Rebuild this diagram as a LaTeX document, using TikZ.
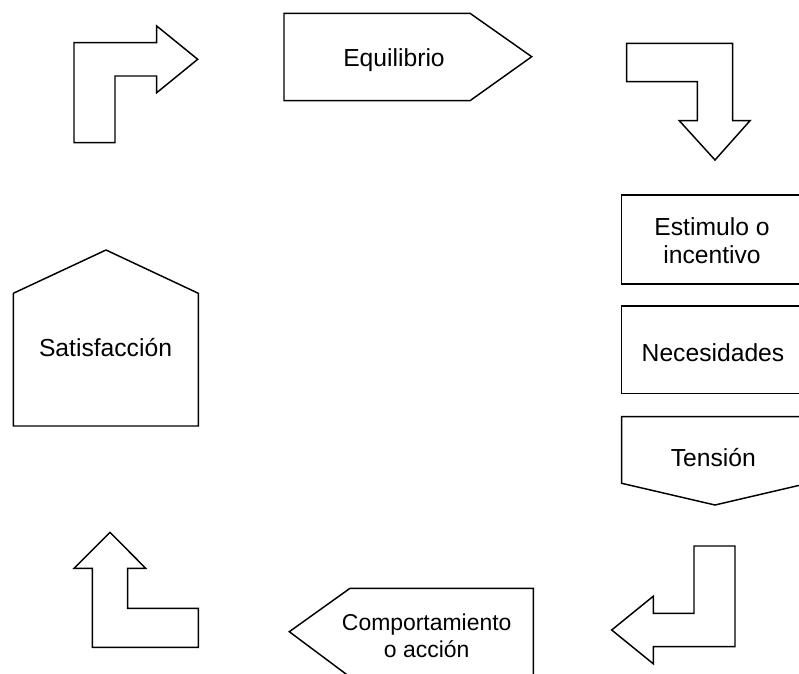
\documentclass[tikz,border=0pt]{standalone}
\usepackage{fontspec}
\setmainfont{Liberation Sans}

\begin{document}
\begin{tikzpicture}[x=0.75pt, y=-0.75pt, line width=1.1pt]
				\tikzstyle{outline} = [draw=black, line join=miter]
				\tikzstyle{txt} = [inner sep=0pt, anchor=base, align=center, font=\fontsize{18.5}{21.2}\selectfont]
				\tikzstyle{smalltxt} = [txt, font=\fontsize{17.2}{20}\selectfont]
				
				\useasboundingbox (0,0) rectangle (799,674);
				\clip (0,0) rectangle (799,674);
				
				% bent arrows in the corners
				\draw[outline] (74,142.7) -- (74,42.7) -- (156.7,42.7) -- (156.7,26) -- (197.7,59.3) -- (156.7,92.7) -- (156.7,76) -- (115,76) -- (115,142.7) -- cycle;
				\draw[outline] (626.7,43.3) -- (732.7,43.3) -- (732.7,120.7) -- (750,120.7) -- (715,160) -- (679.3,120.7) -- (697.3,120.7) -- (697.3,81.7) -- (626.7,81.7) -- cycle;
				\draw[outline] (735,546) -- (735,646.7) -- (653.3,646.7) -- (653.3,663.8) -- (611.7,630) -- (653.3,596.2) -- (653.3,613.3) -- (694,613.3) -- (694,546) -- cycle;
				\draw[outline] (74,568.3) -- (110,532.3) -- (145.7,568.3) -- (127.7,568.3) -- (127.7,608.3) -- (198.3,608.3) -- (198.3,647.3) -- (92.3,647.3) -- (92.3,568.3) -- cycle;
				
				% boxes
				\draw[outline] (284,13.3) -- (470,13.3) -- (531.7,56.7) -- (470,100.7) -- (284,100.7) -- cycle;
				\draw[outline] (621.7,195) rectangle (808,284);
				\draw[outline] (621.7,306) rectangle (808,393.3);
				\draw[outline] (621.7,416.7) -- (808,416.7) -- (808,483.3) -- (715,505) -- (621.7,483.3) -- cycle;
				\draw[outline] (13.3,426) -- (13.3,293.3) -- (106,250) -- (198.3,293.3) -- (198.3,426) -- cycle;
				\draw[outline] (533.3,588.3) -- (533.3,677) -- (350,677) -- (289.3,631.7) -- (350,588.3) -- cycle;
				
				% texts (two-line nodes sit on the baseline of their last line)
				\node[txt] 			at (394,66.7)		(equi) 	{Equilibrio};
				\node[txt] 			at (712,263.3)		(estim) {Estimulo o\\incentivo};
				\node[txt] 			at (713,361.7)		(neces) {Necesidades};
				\node[txt] 			at (713.3,466.7)	(tens) 	{Tensión};
				\node[txt] 			at (105.5,356.7)	(satis) {Satisfacción};
				\node[smalltxt] 	at (426.7,657.3)	(comp) 	{Comportamiento\\o acción};
			\end{tikzpicture}
\end{document}
